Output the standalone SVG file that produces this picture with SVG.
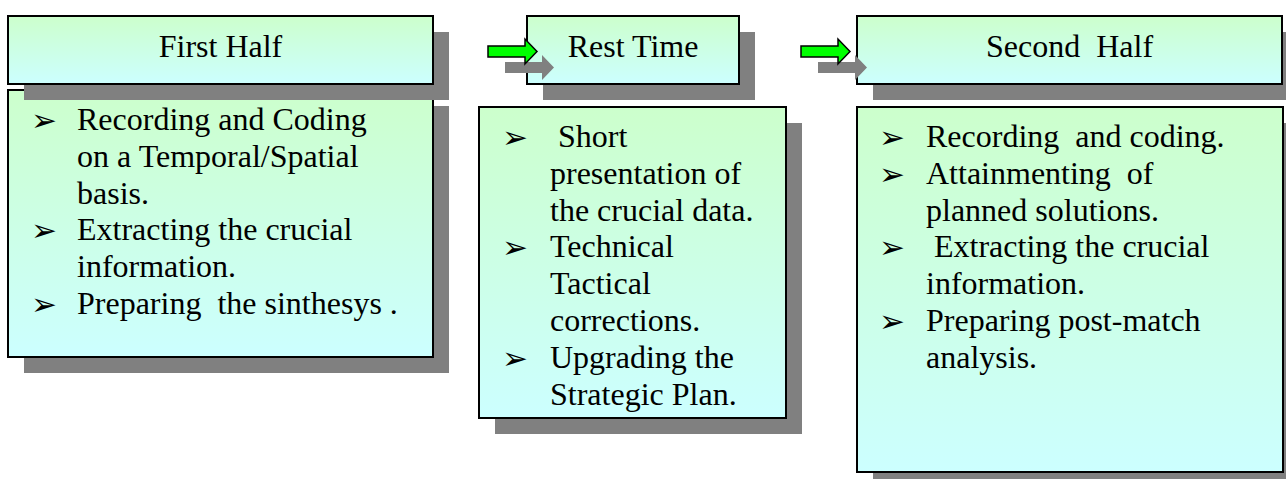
<svg xmlns="http://www.w3.org/2000/svg" width="1286" height="479" viewBox="0 0 1286 479">
<defs>
<linearGradient id="g" x1="0" y1="0" x2="0" y2="1">
<stop offset="0" stop-color="#ccffcc"/>
<stop offset="1" stop-color="#ccffff"/>
</linearGradient>
<polygon id="arr" points="0,7 37,7 37,0 49,12.5 37,25 37,18 0,18"/>
</defs>
<style>
.box{fill:url(#g);stroke:#000;stroke-width:2}
.sh{fill:#808080}
.t{font-family:"Liberation Serif","Times New Roman",serif;font-size:32px;fill:#000}
.h{text-anchor:middle}
.b{font-family:"DejaVu Sans",sans-serif;font-size:31px;fill:#000}
.ga{fill:#00ff00;stroke:#000;stroke-width:1.5}
</style>
<rect width="1286" height="479" fill="#fff"/>

<g id="first-half-body">
<rect class="sh" x="24" y="106" width="425" height="267"/>
<rect class="box" x="8" y="90" width="425" height="267"/>
<text class="b" x="31" y="131">➢</text>
<text class="b" x="31" y="241.4">➢</text>
<text class="b" x="31" y="315">➢</text>
<text class="t" x="77" y="130">Recording and Coding</text>
<text class="t" x="77" y="166.8">on a Temporal/Spatial</text>
<text class="t" x="77" y="203.6">basis.</text>
<text class="t" x="77" y="240.4">Extracting the crucial</text>
<text class="t" x="77" y="277.2">information.</text>
<text class="t" x="77" y="314">Preparing&#160; the sinthesys .</text>
</g>

<g id="first-half">
<rect class="sh" x="24" y="32" width="425" height="68"/>
<rect class="box" x="8" y="16" width="425" height="68"/>
<text class="t h" x="220.5" y="57">First Half</text>
</g>

<g id="rest-time-body">
<rect class="sh" x="495" y="123" width="307" height="311"/>
<rect class="box" x="479" y="107" width="307" height="311"/>
<text class="b" x="502" y="148">➢</text>
<text class="b" x="502" y="258.4">➢</text>
<text class="b" x="502" y="368.8">➢</text>
<text class="t" x="550" y="147">&#160;Short</text>
<text class="t" x="550" y="183.8">presentation of</text>
<text class="t" x="550" y="220.6">the crucial data.</text>
<text class="t" x="550" y="257.4">Technical</text>
<text class="t" x="550" y="294.2">Tactical</text>
<text class="t" x="550" y="331">corrections.</text>
<text class="t" x="550" y="367.8">Upgrading the</text>
<text class="t" x="550" y="404.6">Strategic Plan.</text>
</g>

<g id="rest-time">
<rect class="sh" x="543" y="32" width="212" height="68"/>
<rect class="box" x="527" y="16" width="212" height="68"/>
<text class="t h" x="633" y="57">Rest Time</text>
</g>

<g id="second-half-body">
<rect class="sh" x="873" y="123" width="426" height="365"/>
<rect class="box" x="857" y="107" width="426" height="365"/>
<text class="b" x="879" y="148">➢</text>
<text class="b" x="879" y="184.8">➢</text>
<text class="b" x="879" y="258.4">➢</text>
<text class="b" x="879" y="332">➢</text>
<text class="t" x="926" y="147">Recording&#160; and coding.</text>
<text class="t" x="926" y="183.8">Attainmenting&#160; of</text>
<text class="t" x="926" y="220.6">planned solutions.</text>
<text class="t" x="926" y="257.4">&#160;Extracting the crucial</text>
<text class="t" x="926" y="294.2">information.</text>
<text class="t" x="926" y="331">Preparing post-match</text>
<text class="t" x="926" y="367.8">analysis.</text>
</g>

<g id="second-half">
<rect class="sh" x="873" y="32" width="425" height="68"/>
<rect class="box" x="857" y="16" width="425" height="68"/>
<text class="t h" x="1069.5" y="57">Second&#160; Half</text>
</g>

<g id="connectors">
<use href="#arr" class="sh" x="505" y="55"/>
<use href="#arr" class="ga" x="488" y="39"/>
<use href="#arr" class="sh" x="818" y="55"/>
<use href="#arr" class="ga" x="801" y="39"/>
</g>
</svg>
